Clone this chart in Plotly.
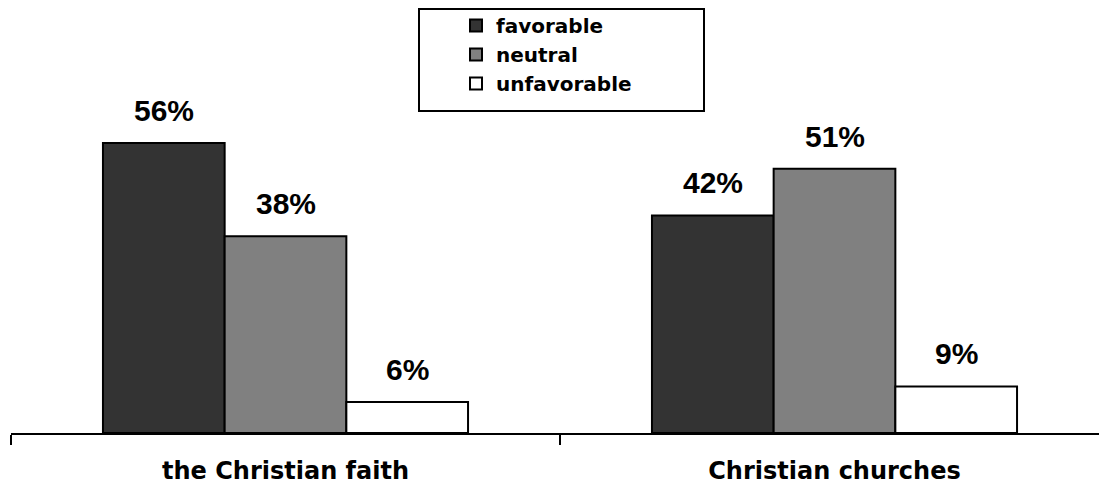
import plotly.graph_objects as go

# Survey results: attitudes toward the Christian faith and Christian churches
categories = ["the Christian faith", "Christian churches"]
series_names = ["favorable", "neutral", "unfavorable"]
favorable = [56, 42]
neutral = [38, 51]
unfavorable = [6, 9]

series_values = [favorable, neutral, unfavorable]
fill_colors = ["#333333", "#808080", "#ffffff"]

BARGAP = 0.335
n_series = len(series_names)
bar_w = (1 - BARGAP) / n_series

fig = go.Figure()
for name, vals, col in zip(series_names, series_values, fill_colors):
    fig.add_trace(go.Bar(
        name=name,
        x=categories,
        y=vals,
        marker=dict(color=col, line=dict(color="#000000", width=2)),
        hoverinfo="skip",
    ))

# value labels above each bar
annotations = []
for j, vals in enumerate(series_values):
    for i, v in enumerate(vals):
        annotations.append(dict(
            x=i + (j - (n_series - 1) / 2) * bar_w,
            y=v,
            xref="x", yref="y",
            text=f"<b>{v}%</b>",
            showarrow=False,
            yanchor="bottom",
            yshift=14,
            font=dict(family="Liberation Sans, Arial, sans-serif", size=30, color="#000000"),
        ))

W, H = 1099, 491
ml, mb = 11, 58
plot_w = W - ml
plot_h = H - mb
cat_px = 549
fig.update_layout(
    width=W, height=H,
    margin=dict(l=ml, r=0, t=0, b=mb),
    paper_bgcolor="#ffffff",
    plot_bgcolor="#ffffff",
    barmode="group",
    bargap=BARGAP,
    bargroupgap=0,
    showlegend=True,
    legend=dict(
        x=(456 - ml) / plot_w, y=1 - 6 / plot_h,
        xref="paper", yref="paper",
        xanchor="left", yanchor="top",
        bgcolor="rgba(0,0,0,0)",
        borderwidth=0,
        font=dict(family="DejaVu Sans, sans-serif", size=20, color="#000000", weight="bold"),
        tracegroupgap=0,
    ),
    shapes=[dict(
        type="rect", xref="paper", yref="paper",
        x0=(419 - ml) / plot_w, x1=(704 - ml) / plot_w,
        y0=1 - 111 / plot_h, y1=1 - 9 / plot_h,
        line=dict(color="#000000", width=2),
        fillcolor="rgba(0,0,0,0)",
        layer="below",
    )],
    annotations=annotations,
    xaxis=dict(
        type="category",
        range=[-0.5, -0.5 + plot_w / cat_px],
        showline=True, linecolor="#000000", linewidth=2,
        ticks="outside", ticklen=10, tickwidth=2, tickcolor="#000000",
        tickson="boundaries",
        showgrid=False, zeroline=False,
        ticklabelstandoff=15,
        tickfont=dict(family="DejaVu Sans, sans-serif", size=24, color="#000000", weight="bold"),
    ),
    yaxis=dict(
        range=[0, plot_h / 5.18],
        visible=False,
        showgrid=False, zeroline=False,
    ),
)

fig.write_html("out.html")
